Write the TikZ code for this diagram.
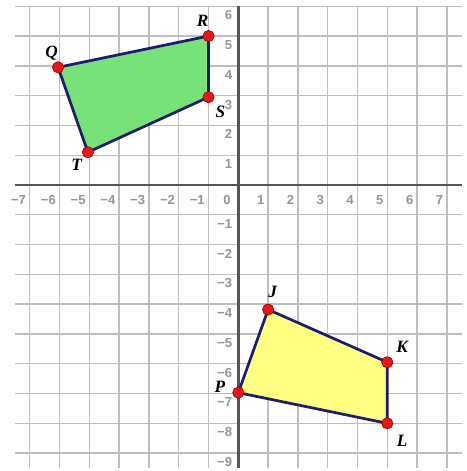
\documentclass[tikz,border=0pt]{standalone}
\usepackage{fontspec}
\setmainfont{Liberation Serif}
\newfontfamily\ticksfont{Liberation Sans}
\usetikzlibrary{calc}
\definecolor{gridgray}{RGB}{190,190,190}
\definecolor{axisgray}{RGB}{85,85,85}
\definecolor{tickgray}{RGB}{150,150,150}
\definecolor{edgenavy}{RGB}{28,28,112}
\definecolor{quadgreen}{RGB}{120,226,120}
\definecolor{quadyellow}{RGB}{255,255,130}
\definecolor{dotred}{RGB}{232,22,22}
\definecolor{dotdark}{RGB}{150,0,0}
\tikzset{
  gridline/.style={draw=gridgray, line width=1.3pt},
  axisline/.style={draw=axisgray, line width=2.4pt},
  ticklbl/.style={font=\ticksfont\fontsize{12.5}{14}\selectfont\bfseries, text=tickgray, inner sep=0pt},
  edge/.style={draw=edgenavy, line width=2.6pt, line join=round},
  pt/.style={circle, fill=dotred, draw=dotdark, line width=0.6pt, minimum size=0.38cm, inner sep=0pt},
  lbl/.style={font=\fontsize{16.5}{19}\selectfont\bfseries\itshape, inner sep=0pt},
}
\begin{document}
\begin{tikzpicture}
\useasboundingbox[fill=white] (-8.0,-9.6) rectangle (7.67,6.21);
% grid
\draw[gridline] (-7.5,-9.5) grid[step=1] (7.5,6);
% axes
\draw[axisline] (-7.5,0) coordinate (xl) -- (7.5,0) coordinate (xr);
\draw[axisline] (0,-9.5) coordinate (yb) -- (0,6) coordinate (yt);
% tick labels
\foreach \i in {-7,...,-1} {
  \node[ticklbl, anchor=east] (xt\i) at (\i-0.12,-0.5) {−\the\numexpr-\i\relax};
}
\foreach \i in {1,...,7} {
  \node[ticklbl, anchor=east] (xt\i) at (\i-0.12,-0.5) {\i};
}
\node[ticklbl, anchor=east] (zero) at (-0.25,-0.5) {0};
\foreach \i in {1,...,6} {
  \node[ticklbl, anchor=east] (yt\i) at (-0.2,\i-0.3) {\i};
}
\foreach \i in {-9,...,-1} {
  \node[ticklbl, anchor=east] (yt\i) at (-0.2,\i-0.3) {−\the\numexpr-\i\relax};
}
% vertices
\coordinate (q) at (-6.05,3.95);
\coordinate (r) at (-1,5);
\coordinate (s) at (-1,2.95);
\coordinate (t) at (-5.05,1.1);
\coordinate (j) at (1,-4.18);
\coordinate (k) at (5,-5.95);
\coordinate (l) at (5,-8);
\coordinate (p) at (0,-6.97);
% quadrilaterals
\draw[edge, fill=quadgreen] (q) -- (r) -- (s) -- (t) -- cycle;
\draw[edge, fill=quadyellow] (j) -- (k) -- (l) -- (p) -- cycle;
% dots
\foreach \v/\n in {q/Q,r/R,s/S,t/T,j/J,k/K,l/L,p/P} {
  \node[pt] (\n) at (\v) {};
}
% labels
\node[lbl] (Qlab) at ($(Q)+(-0.22,0.47)$) {Q};
\node[lbl] (Rlab) at ($(R)+(-0.2,0.5)$) {R};
\node[lbl] (Slab) at ($(S)+(0.4,-0.5)$) {S};
\node[lbl] (Tlab) at ($(T)+(-0.38,-0.42)$) {T};
\node[lbl] (Jlab) at ($(J)+(0.15,0.58)$) {J};
\node[lbl] (Klab) at ($(K)+(0.5,0.52)$) {K};
\node[lbl] (Llab) at ($(L)+(0.5,-0.6)$) {L};
\node[lbl] (Plab) at ($(P)+(-0.62,0.2)$) {P};
\end{tikzpicture}
\end{document}
